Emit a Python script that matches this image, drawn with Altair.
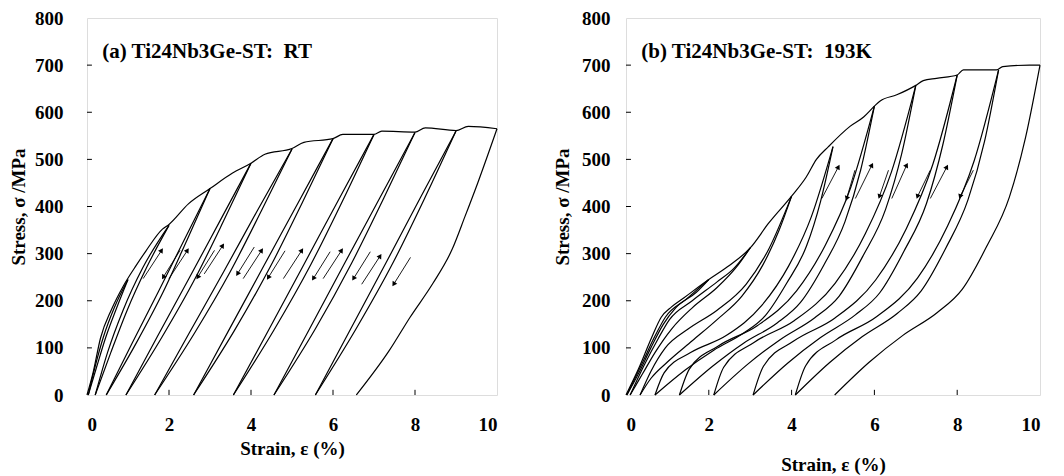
import altair as alt
import pandas as pd

FONT = "Liberation Serif"

# ---------------- Panel (a): RT ----------------
RT_ENV_STRAIN = [0, 0.15, 0.33, 0.6, 0.89, 1.2, 1.44, 1.84, 2.0, 2.48, 3.0, 3.55, 4.0, 4.34, 5.0, 5.29, 6.0, 6.24, 7.0, 7.19, 8.0, 8.25, 9.0, 9.3, 10.0]
RT_ENV_STRESS = [0, 48, 121, 182, 232, 275, 306, 352, 362, 406, 438, 471, 492, 511, 523, 536, 544, 553, 553, 560, 558, 567, 561, 570, 565]

RT_UNLOAD_STRAIN = [
    [1.0, 0.72, 0.46, 0.24, 0.03],
    [2.0, 1.45, 0.98, 0.58, 0.2],
    [3.0, 2.44, 1.86, 1.2, 0.47],
    [4.0, 3.33, 2.63, 1.83, 0.95],
    [5.0, 4.26, 3.49, 2.62, 1.65],
    [6.0, 5.25, 4.47, 3.59, 2.6],
    [7.0, 6.25, 5.46, 4.56, 3.57],
    [8.0, 7.24, 6.45, 5.56, 4.56],
    [9.0, 8.25, 7.46, 6.56, 5.57],
    [10.0, 9.53, 9.22, 8.9, 8.43, 7.88, 7.37, 6.57],
]
RT_UNLOAD_STRESS = [
    [245, 184, 123, 61, 0],
    [360, 270, 180, 90, 0],
    [438, 329, 219, 110, 0],
    [492, 369, 246, 123, 0],
    [522, 392, 261, 131, 0],
    [544, 408, 272, 136, 0],
    [553, 415, 277, 138, 0],
    [557, 418, 279, 139, 0],
    [560, 420, 280, 140, 0],
    [565, 450, 379, 308, 236, 165, 94, 0],
]
RT_RELOAD_STRAIN = [
    [0.03, 0.2, 0.4, 0.66, 1.0],
    [0.2, 0.5, 0.88, 1.36, 2.0],
    [0.47, 1.1, 1.74, 2.37, 3.0],
    [0.95, 1.71, 2.48, 3.24, 4.0],
    [1.65, 2.49, 3.33, 4.16, 5.0],
    [2.6, 3.45, 4.3, 5.15, 6.0],
    [3.57, 4.43, 5.29, 6.14, 7.0],
    [4.56, 5.42, 6.28, 7.14, 8.0],
    [5.57, 6.43, 7.29, 8.14, 9.0],
]
RT_RELOAD_STRESS = [
    [0, 61, 123, 184, 245],
    [0, 90, 180, 270, 360],
    [0, 110, 219, 329, 438],
    [0, 123, 246, 369, 492],
    [0, 131, 261, 392, 522],
    [0, 136, 272, 408, 544],
    [0, 138, 277, 415, 553],
    [0, 139, 279, 418, 557],
    [0, 140, 280, 420, 560],
]

RT_UP_TAIL_STRAIN = [1.37, 2.0, 2.86, 3.81, 4.79, 5.76, 6.7]
RT_UP_TAIL_STRESS = [247, 247, 257, 247, 247, 247, 235]
RT_UP_HEAD_STRAIN = [1.82, 2.45, 3.31, 4.26, 5.24, 6.21, 7.15]
RT_UP_HEAD_STRESS = [307, 307, 317, 307, 307, 307, 295]
RT_DN_TAIL_STRAIN = [2.27, 3.11, 4.08, 4.83, 5.93, 6.91, 7.89]
RT_DN_TAIL_STRESS = [307, 307, 314, 306, 304, 304, 292]
RT_DN_HEAD_STRAIN = [1.86, 2.7, 3.67, 4.42, 5.52, 6.5, 7.48]
RT_DN_HEAD_STRESS = [250, 250, 257, 249, 247, 247, 235]

# ---------------- Panel (b): 193K ----------------
LT_ENV_STRAIN = [0, 0.3, 0.62, 0.85, 1.1, 1.41, 2.0, 2.45, 3.0, 3.45, 4.0, 4.35, 4.6, 4.89, 5.41, 5.74, 6.0, 6.14, 6.54, 7.0, 7.18, 7.5, 8.0, 8.15, 8.95, 9.1, 9.75, 10.0]
LT_ENV_STRESS = [0, 55, 122, 165, 187, 207, 245, 272, 312, 365, 422, 462, 500, 527, 570, 590, 613, 624, 637, 657, 667, 672, 679, 690, 690, 697, 700, 700]

LT_UNLOAD_STRAIN = [
    [2.0, 1.7, 1.2, 0.9, 0.6, 0.3, 0.02],
    [3.0, 2.7, 2.2, 1.6, 1.1, 0.7, 0.4, 0.1],
    [4.0, 3.7, 3.3, 2.8, 2.2, 1.6, 1.0, 0.6, 0.34],
    [5.0, 4.70, 4.36, 3.88, 3.37, 2.85, 2.12, 1.43, 0.7],
    [6.0, 5.67, 5.29, 4.78, 4.21, 3.65, 2.84, 2.09, 1.29],
    [7.0, 6.66, 6.27, 5.73, 5.15, 4.56, 3.73, 2.95, 2.12],
    [8.0, 7.65, 7.26, 6.72, 6.13, 5.54, 4.70, 3.91, 3.07],
    [9.0, 8.66, 8.26, 7.72, 7.13, 6.55, 5.71, 4.92, 4.09],
    [10.0, 9.65, 9.26, 8.71, 8.12, 7.52, 6.68, 5.88, 5.04],
]
LT_UNLOAD_STRESS = [
    [245, 218, 185, 150, 100, 45, 0],
    [312, 275, 228, 185, 140, 90, 45, 0],
    [422, 350, 275, 210, 160, 115, 70, 35, 0],
    [527, 411, 316, 237, 169, 132, 95, 53, 0],
    [613, 478, 368, 276, 196, 153, 110, 61, 0],
    [657, 512, 394, 296, 210, 164, 118, 66, 0],
    [679, 530, 407, 306, 217, 170, 122, 68, 0],
    [690, 538, 414, 311, 221, 173, 124, 69, 0],
    [700, 546, 420, 315, 224, 175, 126, 70, 0],
]
LT_RELOAD_STRAIN = [
    [0.02, 0.35, 0.7, 0.95, 1.45, 2.0],
    [0.1, 0.42, 0.78, 1.05, 1.6, 2.2, 2.6, 3.0],
    [0.34, 0.6, 0.95, 1.5, 2.2, 2.9, 3.45, 4.0],
    [0.7, 0.92, 1.56, 2.42, 3.28, 3.93, 4.48, 5.0],
    [1.29, 1.53, 2.23, 3.17, 4.12, 4.82, 5.43, 6.0],
    [2.12, 2.36, 3.10, 4.07, 5.05, 5.78, 6.41, 7.0],
    [3.07, 3.32, 4.06, 5.04, 6.03, 6.77, 7.41, 8.0],
    [4.09, 4.34, 5.07, 6.05, 7.04, 7.77, 8.41, 9.0],
]
LT_RELOAD_STRESS = [
    [0, 60, 125, 165, 203, 245],
    [0, 60, 120, 160, 200, 240, 268, 312],
    [0, 50, 100, 140, 180, 235, 310, 422],
    [0, 47, 90, 126, 190, 274, 379, 527],
    [0, 55, 104, 147, 221, 319, 441, 613],
    [0, 59, 112, 158, 237, 342, 473, 657],
    [0, 61, 115, 163, 244, 353, 489, 679],
    [0, 62, 117, 166, 248, 359, 497, 690],
]

LT_UP_TAIL_STRAIN = [4.73, 5.54, 6.42, 7.35]
LT_UP_TAIL_STRESS = [417, 417, 417, 417]
LT_UP_HEAD_STRAIN = [5.13, 5.94, 6.78, 7.75]
LT_UP_HEAD_STRESS = [484, 488, 488, 484]
LT_DN_TAIL_STRAIN = [5.53, 6.34, 7.35, 8.39]
LT_DN_TAIL_STRESS = [477, 477, 477, 477]
LT_DN_HEAD_STRAIN = [5.33, 6.12, 7.04, 8.07]
LT_DN_HEAD_STRESS = [417, 421, 421, 421]

X_TICKS = [0, 2, 4, 6, 8, 10]
Y_TICKS = [0, 100, 200, 300, 400, 500, 600, 700, 800]
X_INNER_TICKS = [2, 4, 6, 8]
Y_INNER_TICKS = [100, 200, 300, 400, 500, 600, 700]

LABEL_A = "(a) Ti24Nb3Ge-ST:\u00a0 RT"
LABEL_B = "(b) Ti24Nb3Ge-ST:\u00a0 193K"
X_TITLE = "Strain, ε (%)"
Y_TITLE = "Stress, σ /MPa"


def curves_df(env_x, env_y, un_x, un_y, re_x, re_y):
    rows = []
    for s, t in zip(env_x, env_y):
        rows.append({"curve": "env", "strain": s, "stress": t})
    for i, (xs, ys) in enumerate(zip(un_x, un_y)):
        for s, t in zip(xs, ys):
            rows.append({"curve": f"u{i}", "strain": s, "stress": t})
    for i, (xs, ys) in enumerate(zip(re_x, re_y)):
        for s, t in zip(xs, ys):
            rows.append({"curve": f"r{i}", "strain": s, "stress": t})
    return pd.DataFrame(rows)


def seg_df(x1, y1, x2, y2):
    return pd.DataFrame({"strain": x1, "stress": y1, "strain2": x2, "stress2": y2})


def panel(df, up, dn, up_ang, dn_ang, label, width, height, ylabpad, ytitlex, xtitley):
    xscale = alt.Scale(domain=[0, 10], nice=False, zero=False)
    yscale = alt.Scale(domain=[0, 800], nice=False, zero=False)
    xaxis = alt.Axis(values=X_TICKS, format="d", title=X_TITLE, domain=False, ticks=False,
                     tickSize=0, grid=False, labelFont=FONT, labelFontSize=19, labelFontWeight="bold",
                     labelColor="black", labelPadding=20, titleFont=FONT, titleFontSize=19,
                     titleFontWeight="bold", titleColor="black", titleY=xtitley, titleBaseline="middle")
    yaxis = alt.Axis(values=Y_TICKS, format="d", title=Y_TITLE, domain=False, ticks=False,
                     tickSize=0, grid=False, labelFont=FONT, labelFontSize=19, labelFontWeight="bold",
                     labelColor="black", labelPadding=ylabpad, titleFont=FONT, titleFontSize=19,
                     titleFontWeight="bold", titleColor="black", titleX=ytitlex, titleBaseline="middle",
                     titleAngle=270)
    lines = alt.Chart(df).mark_line(color="black", strokeWidth=1.2, interpolate="monotone").encode(
        x=alt.X("strain:Q", scale=xscale, axis=xaxis),
        y=alt.Y("stress:Q", scale=yscale, axis=yaxis),
        detail="curve:N",
    )
    xt = alt.Chart(pd.DataFrame({"strain": X_INNER_TICKS, "stress": [0] * 4, "stress2": [11] * 4})).mark_rule(
        color="black", strokeWidth=1).encode(x="strain:Q", y="stress:Q", y2="stress2:Q")
    yt = alt.Chart(pd.DataFrame({"stress": Y_INNER_TICKS, "strain": [0] * 7, "strain2": [0.12] * 7})).mark_rule(
        color="black", strokeWidth=1).encode(y="stress:Q", x="strain:Q", x2="strain2:Q")
    up_shaft = alt.Chart(up).mark_rule(color="black", strokeWidth=0.9).encode(
        x="strain:Q", y="stress:Q", x2="strain2:Q", y2="stress2:Q")
    dn_shaft = alt.Chart(dn).mark_rule(color="black", strokeWidth=0.9).encode(
        x="strain:Q", y="stress:Q", x2="strain2:Q", y2="stress2:Q")
    up_head = alt.Chart(up).mark_point(shape="triangle-up", filled=True, size=30, angle=up_ang,
                                       color="black", opacity=1).encode(x="strain2:Q", y="stress2:Q")
    dn_head = alt.Chart(dn).mark_point(shape="triangle-up", filled=True, size=30, angle=dn_ang,
                                       color="black", opacity=1).encode(x="strain2:Q", y="stress2:Q")
    txt = alt.Chart(pd.DataFrame({"strain": [0.37], "stress": [728], "label": [label]})).mark_text(
        align="left", baseline="middle", font=FONT, fontSize=21, fontWeight="bold", color="black").encode(
        x="strain:Q", y="stress:Q", text="label:N")
    return alt.layer(lines, xt, yt, up_shaft, dn_shaft, up_head, dn_head, txt).properties(
        width=width, height=height)


df_a = curves_df(RT_ENV_STRAIN, RT_ENV_STRESS, RT_UNLOAD_STRAIN, RT_UNLOAD_STRESS, RT_RELOAD_STRAIN, RT_RELOAD_STRESS)
df_b = curves_df(LT_ENV_STRAIN, LT_ENV_STRESS, LT_UNLOAD_STRAIN, LT_UNLOAD_STRESS, LT_RELOAD_STRAIN, LT_RELOAD_STRESS)

up_a = seg_df(RT_UP_TAIL_STRAIN, RT_UP_TAIL_STRESS, RT_UP_HEAD_STRAIN, RT_UP_HEAD_STRESS)
dn_a = seg_df(RT_DN_TAIL_STRAIN, RT_DN_TAIL_STRESS, RT_DN_HEAD_STRAIN, RT_DN_HEAD_STRESS)
up_b = seg_df(LT_UP_TAIL_STRAIN, LT_UP_TAIL_STRESS, LT_UP_HEAD_STRAIN, LT_UP_HEAD_STRESS)
dn_b = seg_df(LT_DN_TAIL_STRAIN, LT_DN_TAIL_STRESS, LT_DN_HEAD_STRAIN, LT_DN_HEAD_STRESS)

pa = panel(df_a, up_a, dn_a, 33, 212, LABEL_A, 410, 377, 24, -69, 53)
pb = panel(df_b, up_b, dn_b, 28, 200, LABEL_B, 414, 377, 16, -64, 69)

chart = alt.hconcat(pa, pb, spacing=129, bounds="flush").properties(
    padding={"left": 0, "top": 0, "right": 0, "bottom": 0}
).configure_view(stroke="black", strokeWidth=1.2).configure(background="white")

chart.save("out.html", embed_options={"renderer": "svg", "actions": False})
